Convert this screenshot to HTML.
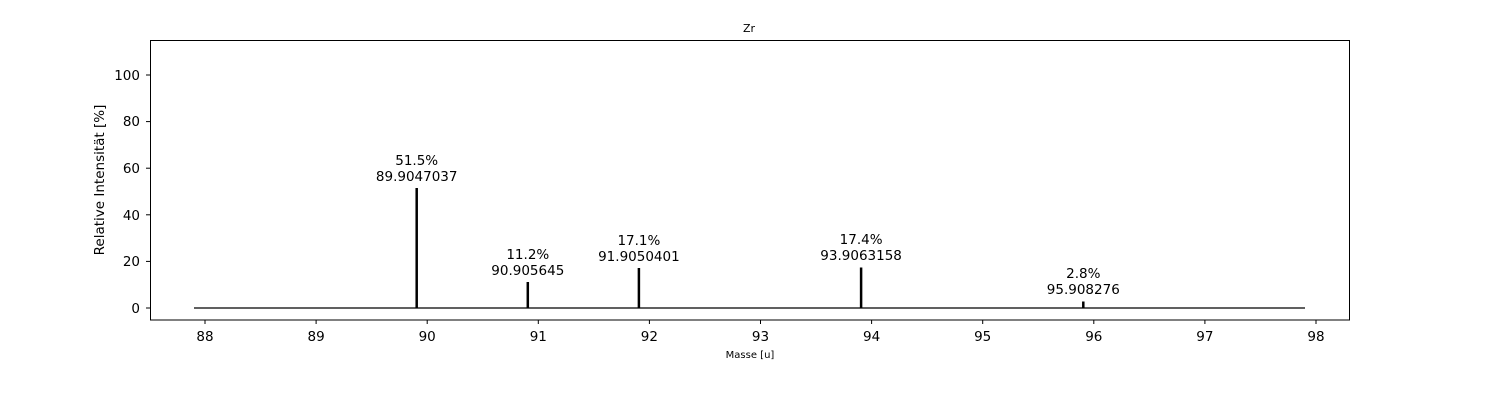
<!DOCTYPE html>
<html><head><meta charset="utf-8"><style>body{margin:0;background:#fff}</style></head><body>
<svg width="1500" height="400" xmlns="http://www.w3.org/2000/svg" font-family="DejaVu Sans, Liberation Sans, sans-serif">
<rect width="1500" height="400" fill="#fff"/>
<text x="749" y="32" font-size="11" text-anchor="middle">Zr</text>
<line x1="194" y1="308" x2="1305" y2="308" stroke="#000" stroke-width="1.2"/>
<g stroke="#000" stroke-width="2.5">
<line x1="416.7" y1="308" x2="416.7" y2="188"/>
<line x1="527.8" y1="308" x2="527.8" y2="282"/>
<line x1="638.9" y1="308" x2="638.9" y2="268"/>
<line x1="861.1" y1="308" x2="861.1" y2="267.5"/>
<line x1="1083.3" y1="308" x2="1083.3" y2="301.5"/>
</g>
<g font-size="13.5" text-anchor="middle">
<text x="416.7" y="165">51.5%</text><text x="416.7" y="181">89.9047037</text>
<text x="527.8" y="259">11.2%</text><text x="527.8" y="275">90.905645</text>
<text x="638.9" y="245">17.1%</text><text x="638.9" y="261">91.9050401</text>
<text x="861.1" y="244">17.4%</text><text x="861.1" y="260">93.9063158</text>
<text x="1083.3" y="278">2.8%</text><text x="1083.3" y="294">95.908276</text>
</g>
<rect x="150.5" y="40.5" width="1199" height="279.5" fill="none" stroke="#000" stroke-width="1"/>
<g stroke="#000">
<line x1="205" y1="320" x2="205" y2="324"/><line x1="316.1" y1="320" x2="316.1" y2="324"/><line x1="427.2" y1="320" x2="427.2" y2="324"/><line x1="538.3" y1="320" x2="538.3" y2="324"/><line x1="649.4" y1="320" x2="649.4" y2="324"/><line x1="760.5" y1="320" x2="760.5" y2="324"/><line x1="871.6" y1="320" x2="871.6" y2="324"/><line x1="982.7" y1="320" x2="982.7" y2="324"/><line x1="1093.8" y1="320" x2="1093.8" y2="324"/><line x1="1204.9" y1="320" x2="1204.9" y2="324"/><line x1="1316" y1="320" x2="1316" y2="324"/>
<line x1="146" y1="308" x2="150" y2="308"/><line x1="146" y1="261.4" x2="150" y2="261.4"/><line x1="146" y1="214.8" x2="150" y2="214.8"/><line x1="146" y1="168.2" x2="150" y2="168.2"/><line x1="146" y1="121.6" x2="150" y2="121.6"/><line x1="146" y1="75" x2="150" y2="75"/>
</g>
<g font-size="13.5" text-anchor="middle">
<text x="205" y="341">88</text><text x="316.1" y="341">89</text><text x="427.2" y="341">90</text><text x="538.3" y="341">91</text><text x="649.4" y="341">92</text><text x="760.5" y="341">93</text><text x="871.6" y="341">94</text><text x="982.7" y="341">95</text><text x="1093.8" y="341">96</text><text x="1204.9" y="341">97</text><text x="1316" y="341">98</text>
</g>
<g font-size="13.5" text-anchor="end">
<text x="140" y="313">0</text><text x="140" y="266">20</text><text x="140" y="220">40</text><text x="140" y="173">60</text><text x="140" y="126">80</text><text x="140" y="80">100</text>
</g>
<text x="750" y="358" font-size="10" text-anchor="middle">Masse [u]</text>
<text transform="translate(104,180) rotate(-90)" font-size="13.5" text-anchor="middle">Relative Intensität [%]</text>
</svg>
</body></html>
